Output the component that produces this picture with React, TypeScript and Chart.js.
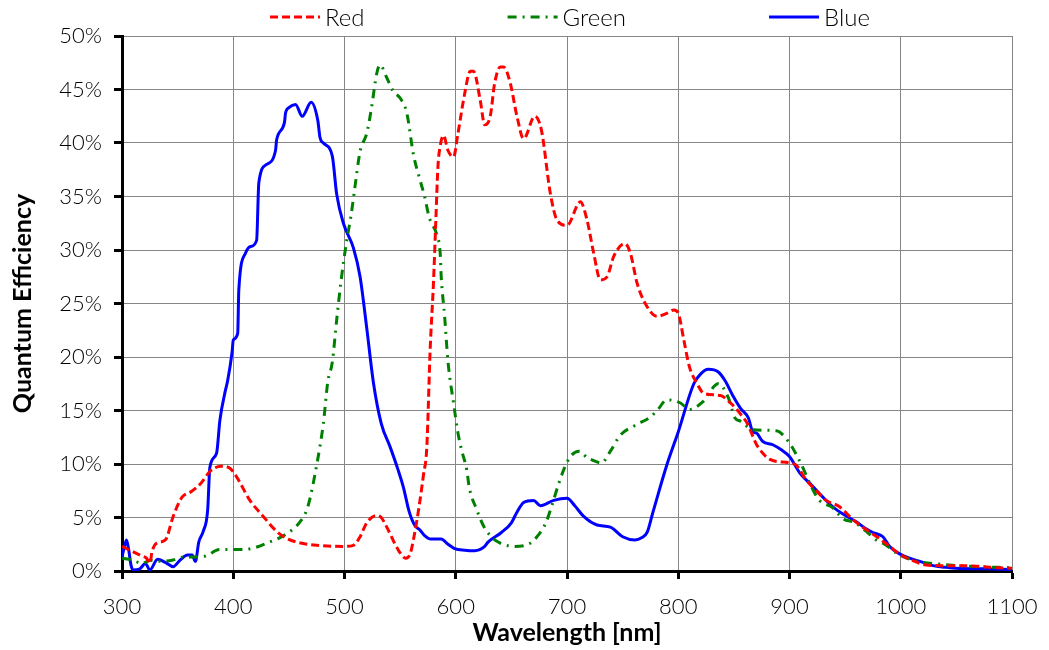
import { useEffect, useRef } from "react";
import { Chart, registerables } from "chart.js";

Chart.register(...registerables);

// Wavelength sample positions (nm) and quantum efficiency (%) per channel
const redNm = [300, 306, 312, 318, 322, 325, 327, 331, 339, 346, 354, 362, 371, 379, 389, 397, 403, 415, 427, 439, 447, 457, 475, 499, 508, 514, 520, 529, 533, 538, 545, 550, 555, 559, 563, 567, 571, 574, 577, 580, 582, 584, 586, 589, 593, 598, 602, 608, 613, 616, 622, 626, 631, 635, 640, 643, 649, 655, 661, 671, 677, 685, 691, 700, 712, 718, 724, 730, 736, 742, 752, 757, 763, 772, 781, 790, 796, 800, 805, 810, 817, 823, 838, 847, 858, 862, 870, 876, 883, 900, 906, 915, 925, 933, 945, 955, 963, 980, 990, 1000, 1010, 1023, 1040, 1065, 1080, 1100];
const redQE = [2.3, 2.0, 1.7, 1.4, 1.2, 0.7, 1.8, 2.6, 2.9, 5.1, 6.9, 7.4, 8.2, 9.3, 9.8, 9.6, 8.8, 6.6, 5.1, 3.7, 3.1, 2.7, 2.4, 2.3, 2.4, 3.2, 4.5, 5.2, 5.0, 4.1, 2.6, 1.7, 1.2, 1.6, 3.5, 6.0, 9.0, 11.6, 20.7, 27.0, 32.5, 37.8, 39.7, 40.7, 39.3, 38.7, 40.9, 44.6, 46.7, 46.7, 44.0, 41.7, 42.5, 45.6, 47.1, 47.1, 45.6, 42.5, 40.4, 42.5, 41.2, 35.3, 32.8, 32.3, 34.5, 32.8, 29.7, 27.2, 27.5, 29.4, 30.6, 29.7, 26.9, 24.7, 23.8, 24.1, 24.4, 24.1, 21.6, 19.1, 17.5, 16.6, 16.4, 15.7, 14.4, 13.8, 11.9, 11.0, 10.4, 10.1, 9.9, 8.5, 7.4, 6.6, 6.0, 5.0, 4.3, 3.1, 2.3, 1.5, 1.0, 0.56, 0.5, 0.47, 0.35, 0.25];

const greenNm = [300, 310, 318, 325, 333, 345, 355, 365, 375, 388, 409, 420, 430, 445, 460, 467, 475, 481, 485, 489, 493, 497, 502, 506, 509, 514, 520, 524, 529, 532, 538, 544, 550, 556, 562, 568, 572, 576, 583, 586, 587, 590, 593, 598, 602, 605, 610, 612, 619, 625, 632, 640, 653, 667, 673, 681, 686, 693, 698, 703, 711, 718, 722, 731, 739, 748, 761, 775, 781, 790, 802, 810, 822, 836, 845, 851, 856, 867, 888, 899, 910, 921, 927, 939, 948, 959, 969, 978, 984, 999, 1015, 1035, 1060, 1100];
const greenQE = [1.2, 1.0, 0.7, 1.0, 0.9, 1.0, 1.3, 1.3, 1.4, 2.0, 2.0, 2.2, 2.6, 3.3, 4.6, 6.0, 9.9, 13.8, 17.7, 19.5, 23.5, 27.2, 30.9, 33.3, 35.6, 39.2, 40.9, 43.1, 46.5, 47.3, 46.1, 44.8, 44.2, 42.8, 38.9, 36.5, 35.0, 33.1, 31.4, 29.7, 27.4, 23.8, 19.6, 15.7, 12.9, 11.4, 9.4, 7.9, 5.7, 4.2, 3.2, 2.6, 2.3, 2.6, 3.2, 4.5, 6.0, 8.3, 9.7, 10.7, 11.2, 10.6, 10.4, 10.1, 11.2, 12.7, 13.6, 14.4, 15.0, 16.0, 15.7, 15.1, 15.8, 17.5, 16.2, 14.3, 14.0, 13.2, 13.1, 12.1, 10.1, 7.6, 6.6, 5.9, 4.9, 4.5, 3.7, 2.9, 2.6, 1.5, 0.9, 0.65, 0.45, 0.3];

const blueNm = [300, 302, 304, 306, 308, 310, 316, 321, 325, 332, 339, 346, 352, 359, 363, 366, 369, 373, 377, 379, 385, 388, 393, 395, 399, 400, 404, 405, 411, 415, 421, 423, 430, 438, 439, 446, 447, 450, 456, 462, 470, 476, 478, 481, 489, 493, 499, 508, 514, 520, 526, 533, 541, 548, 553, 558, 563, 568, 572, 577, 587, 593, 599, 608, 617, 626, 629, 641, 650, 655, 661, 670, 676, 688, 700, 707, 715, 727, 739, 750, 761, 767, 772, 777, 790, 800, 814, 820, 827, 836, 842, 849, 856, 863, 867, 870, 876, 885, 893, 900, 909, 921, 930, 939, 950, 960, 968, 975, 984, 990, 999, 1008, 1017, 1029, 1040, 1050, 1075, 1100];
const blueQE = [1.3, 2.2, 2.9, 2.0, 0.6, 0.1, 0.2, 0.7, 0.1, 1.1, 0.8, 0.4, 1.0, 1.5, 1.5, 0.9, 2.7, 3.7, 5.7, 9.7, 11.0, 14.1, 16.9, 17.8, 20.5, 21.6, 22.2, 26.3, 29.7, 30.3, 30.9, 36.3, 38.0, 39.3, 40.3, 41.9, 42.8, 43.3, 43.6, 42.5, 43.8, 42.1, 40.5, 40.0, 38.8, 35.2, 32.5, 30.2, 27.5, 22.7, 17.6, 13.8, 11.6, 9.5, 7.8, 5.6, 4.3, 3.8, 3.3, 3.0, 3.0, 2.5, 2.1, 1.95, 1.9, 2.3, 2.7, 3.6, 4.5, 5.5, 6.4, 6.6, 6.1, 6.6, 6.8, 6.1, 5.1, 4.3, 4.1, 3.2, 2.9, 3.1, 3.6, 5.4, 10.0, 13.0, 17.5, 18.4, 18.85, 18.6, 17.8, 16.4, 15.2, 14.3, 13.0, 12.9, 12.1, 11.8, 11.3, 10.7, 9.2, 7.9, 6.9, 6.0, 5.2, 4.6, 4.0, 3.6, 3.2, 2.3, 1.6, 1.2, 0.9, 0.5, 0.35, 0.25, 0.2, 0.15];

const seriesNames = ["Red", "Green", "Blue"];
const xMin = 300;
const xMax = 1100;
const xStep = 100;
const yMin = 0;
const yMax = 50;
const yStep = 5;

const FONT = "Lato, 'Open Sans', sans-serif";

const topLegend = {
  id: "topLegend",
  afterDraw(chart: any) {
    const { ctx, chartArea } = chart;
    const sampleW = 50;
    const textGap = 5;
    const itemGap = 143;
    ctx.save();
    ctx.font = `300 24px ${FONT}`;
    ctx.textBaseline = "middle";
    const items = chart.data.datasets.map((ds: any) => ({
      ds,
      w: sampleW + textGap + ctx.measureText(ds.label).width,
    }));
    const total = items.reduce((s: number, it: any) => s + it.w, 0) + itemGap * (items.length - 1);
    let x = (chartArea.left + chartArea.right) / 2 + 3 - total / 2;
    const y = 9;
    for (const it of items) {
      const ds = it.ds;
      ctx.beginPath();
      ctx.strokeStyle = ds.borderColor;
      ctx.lineWidth = ds.borderWidth;
      ctx.setLineDash(ds.borderDash || []);
      ctx.moveTo(x, y);
      ctx.lineTo(x + sampleW, y);
      ctx.stroke();
      ctx.setLineDash([]);
      ctx.fillStyle = "#000";
      ctx.textAlign = "left";
      ctx.fillText(ds.label, x + sampleW + textGap, y + 1);
      x += it.w + itemGap;
    }
    ctx.restore();
  },
};

export default function App() {
  const ref = useRef<HTMLCanvasElement | null>(null);

  useEffect(() => {
    if (!ref.current) return;
    const toPts = (xs: number[], ys: number[]) => xs.map((x, i) => ({ x, y: ys[i] }));
    const chart = new Chart(ref.current, {
      type: "line",
      data: {
        datasets: [
          {
            label: seriesNames[0],
            data: toPts(redNm, redQE),
            borderColor: "#FF0000",
            borderWidth: 3,
            borderDash: [8, 4],
            pointRadius: 0,
            cubicInterpolationMode: "monotone",
            fill: false,
          },
          {
            label: seriesNames[1],
            data: toPts(greenNm, greenQE),
            borderColor: "#008000",
            borderWidth: 3,
            borderDash: [9, 6, 2, 6],
            pointRadius: 0,
            cubicInterpolationMode: "monotone",
            fill: false,
          },
          {
            label: seriesNames[2],
            data: toPts(blueNm, blueQE),
            borderColor: "#0000FF",
            borderWidth: 3,
            pointRadius: 0,
            cubicInterpolationMode: "monotone",
            fill: false,
          },
        ],
      },
      options: {
        animation: false,
        responsive: true,
        maintainAspectRatio: false,
        layout: { padding: { top: 28, right: 29, left: 0, bottom: 0 } },
        plugins: {
          legend: { display: false },
          tooltip: { enabled: false },
        },
        scales: {
          x: {
            type: "linear",
            min: xMin,
            max: xMax,
            ticks: {
              stepSize: xStep,
              font: { family: FONT, size: 22, weight: "300" },
              color: "#000",
              padding: 15,
              callback: (v: any) => String(v),
            },
            grid: {
              color: "#868686",
              lineWidth: 1,
              tickColor: "#000",
              tickWidth: 3,
              tickLength: 8,
            },
            border: { display: true, color: "#000", width: 3 },
            title: {
              display: true,
              text: "Wavelength [nm]",
              font: { family: FONT, size: 25, weight: "bold" },
              color: "#000",
              padding: { top: 0, bottom: 2 },
            },
            afterFit: (s: any) => {
              s.height = 79;
              s.paddingRight = 0;
              s.paddingLeft = 0;
            },
          },
          y: {
            min: yMin,
            max: yMax,
            ticks: {
              stepSize: yStep,
              font: { family: FONT, size: 22, weight: "300" },
              color: "#000",
              padding: 12,
              callback: (v: any) => `${v}%`,
            },
            grid: {
              color: "#868686",
              lineWidth: 1,
              tickColor: "#000",
              tickWidth: 3,
              tickLength: 8,
            },
            border: { display: true, color: "#000", width: 3 },
            title: {
              display: true,
              text: "Quantum Efficiency",
              font: { family: FONT, size: 25, weight: "bold" },
              color: "#000",
              padding: { top: 0, bottom: 0 },
            },
            afterFit: (s: any) => {
              s.width = 114;
            },
          },
        },
      },
      plugins: [topLegend],
    });
    return () => chart.destroy();
  }, []);

  return (
    <div style={{ position: "absolute", left: 8, top: 8, width: 1033, height: 642 }}>
      <canvas ref={ref} />
    </div>
  );
}
